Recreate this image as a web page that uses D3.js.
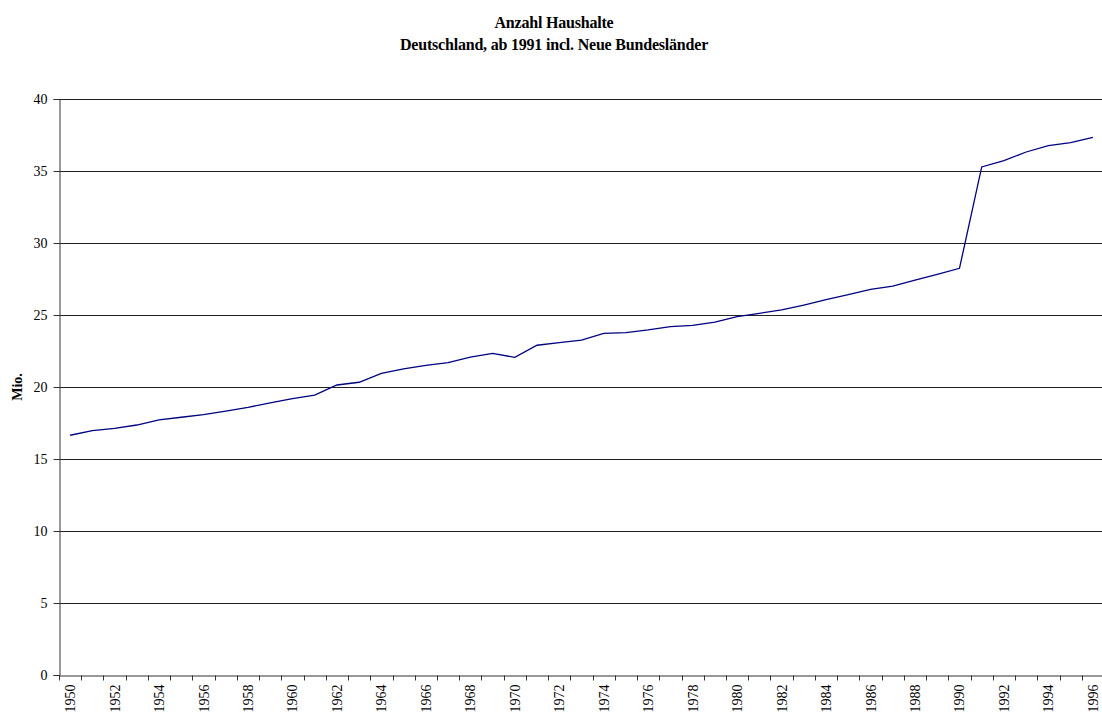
<!DOCTYPE html>
<html><head><meta charset="utf-8">
<script src="https://cdn.jsdelivr.net/npm/d3@7"></script>
<style>
html,body{margin:0;padding:0;background:#fff;overflow:hidden;}
svg{display:block;}
</style></head>
<body>
<svg id="chart" width="1102" height="716"></svg>
<script>
const titleLines = ["Anzahl Haushalte", "Deutschland, ab 1991 incl. Neue Bundesländer"];
const yAxisLabel = "Mio.";
const years = d3.range(1950, 1997).map(String);
const households = [
  16.65, 16.97, 17.13, 17.36, 17.71, 17.90, 18.08, 18.33, 18.59, 18.89,
  19.19, 19.44, 20.14, 20.33, 20.95, 21.26, 21.50, 21.69, 22.08, 22.34,
  22.06, 22.90, 23.08, 23.26, 23.73, 23.77, 23.96, 24.19, 24.28, 24.51,
  24.88, 25.12, 25.35, 25.69, 26.06, 26.41, 26.78, 27.01, 27.43, 27.82,
  28.24, 35.28, 35.72, 36.32, 36.76, 36.97, 37.34
];
const yTicks = [0, 5, 10, 15, 20, 25, 30, 35, 40];
const xLabelYears = years.filter((d, i) => i % 2 === 0);

const svg = d3.select("#chart");
const margin = {left: 59, right: 1104, top: 99, bottom: 675};
const font = "'Liberation Serif', 'Times New Roman', serif";

const x = d3.scaleBand().domain(years).range([margin.left, margin.right]).padding(0);
const y = d3.scaleLinear().domain([0, 40]).range([margin.bottom, margin.top]);

// title
svg.append("g").selectAll("text").data(titleLines).join("text")
  .attr("x", 554)
  .attr("y", (d, i) => 27.5 + i * 22)
  .attr("text-anchor", "middle")
  .attr("font-family", font)
  .attr("font-weight", "bold")
  .attr("font-size", 16)
  .attr("letter-spacing", "-0.2px")
  .attr("fill", "#000")
  .text(d => d);

// gridlines
svg.append("g").selectAll("line").data(yTicks.filter(t => t > 0)).join("line")
  .attr("x1", margin.left).attr("x2", margin.right)
  .attr("y1", d => Math.round(y(d)) + 0.5).attr("y2", d => Math.round(y(d)) + 0.5)
  .attr("stroke", "#222").attr("stroke-width", 1);

// y axis
const yAxis = d3.axisLeft(y).tickValues(yTicks).tickSize(6).tickPadding(6);
const gy = svg.append("g").attr("transform", `translate(${margin.left + 0.5},0)`).call(yAxis);
gy.select(".domain").attr("stroke", "#333");
gy.selectAll(".tick line").attr("stroke", "#333");
gy.selectAll(".tick text").attr("font-family", font).attr("font-size", 14).attr("fill", "#000");

// x axis
const xAxis = d3.axisBottom(x).tickValues([]).tickSizeOuter(0);
const gx = svg.append("g").attr("transform", `translate(0,${Math.round(margin.bottom) + 0.5})`).call(xAxis);
gx.select(".domain").attr("stroke", "#333");
// tick marks at category boundaries
const boundaries = years.map(d => x(d)).concat([x(years[years.length - 1]) + x.bandwidth()]);
gx.selectAll("line.bt").data(boundaries).join("line").attr("class", "bt")
  .attr("x1", d => Math.round(d) + 0.5).attr("x2", d => Math.round(d) + 0.5)
  .attr("y1", 0).attr("y2", 5).attr("stroke", "#333");
gx.selectAll("text.xl").data(xLabelYears).join("text").attr("class", "xl")
  .attr("transform", d => `translate(${x(d) + x.bandwidth() / 2 + 5},9) rotate(-90)`)
  .attr("text-anchor", "end")
  .attr("font-family", font).attr("font-size", 14).attr("fill", "#000")
  .text(d => d);

// y axis label
svg.append("text")
  .attr("transform", `translate(22,${(margin.top + margin.bottom) / 2}) rotate(-90)`)
  .attr("text-anchor", "middle")
  .attr("font-family", font).attr("font-weight", "bold").attr("font-size", 14)
  .text(yAxisLabel);

// line
const line = d3.line()
  .x((d, i) => x(years[i]) + x.bandwidth() / 2)
  .y(d => y(d));
svg.append("path").datum(households)
  .attr("d", line)
  .attr("fill", "none")
  .attr("stroke", "#000080")
  .attr("stroke-width", 1.3);
</script>
</body></html>
